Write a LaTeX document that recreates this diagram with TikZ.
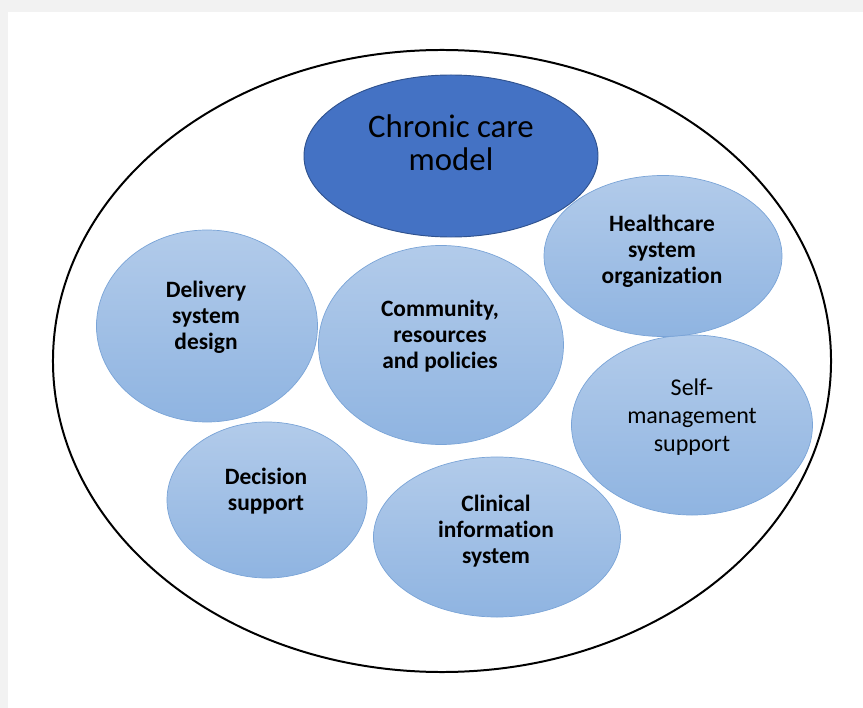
\documentclass[tikz,border=0pt]{standalone}
\usepackage{fontspec}
\setmainfont{Carlito}[RawFeature={-liga;-calt}]
\usetikzlibrary{shapes.geometric}
\definecolor{coreblue}{RGB}{68,114,196}
\definecolor{coreline}{RGB}{47,82,143}
\definecolor{bubbletop}{RGB}{178,203,234}
\definecolor{bubblebot}{RGB}{143,180,225}
\definecolor{bubbleline}{RGB}{122,164,215}
\tikzset{
x=0.03cm, y=-0.03cm, % one unit = one pixel, y grows downwards
every node/.style={align=center, text=black}, % multi-line labels
frame/.style={ellipse, draw=black, line width=1.7pt}, % big ring round everything
core/.style={ellipse, draw=coreline, fill=coreblue, line width=0.8pt}, % the model itself
bubble/.style={ellipse, draw=bubbleline, top color=bubbletop, bottom color=bubblebot, line width=0.6pt}, % one element
tag/.style={font=\fontsize{20}{22}\selectfont\bfseries}, % bold element names
}

\begin{document}
\begin{tikzpicture}
    % window edge
    \fill[black!5] (0,0) rectangle (863,12);
    \fill[black!5] (0,0) rectangle (8,708);
    \useasboundingbox (0,0) rectangle (863,708);

    \node[frame, minimum width=23.34cm, minimum height=18.66cm] (ring) at (442,361) {};
    \node[core, minimum width=8.82cm, minimum height=4.86cm] (ccm) at (451,156) {};
    \node[bubble, minimum width=6.63cm, minimum height=5.76cm] (dsd) at (207,326) {};
    \node[bubble, minimum width=7.35cm, minimum height=5.97cm] (crp) at (441,345) {};
    \node[bubble, minimum width=6.00cm, minimum height=4.68cm] (ds) at (267,500) {};
    \node[bubble, minimum width=7.41cm, minimum height=4.80cm] (cis) at (497,537) {};
    \node[bubble, minimum width=7.23cm, minimum height=5.40cm] (sms) at (692,425) {};
    \node[bubble, minimum width=7.14cm, minimum height=4.83cm] (hso) at (663,256) {};

    \node[font=\fontsize{28}{28}\selectfont] (ccm-t) at (451,143) {Chronic care\\model};
    \node[tag] (dsd-t) at (206,317) {Delivery\\system\\design};
    \node[tag] (crp-t) at (440,336) {Community,\\resources\\and policies};
    \node[tag] (ds-t) at (266,491) {Decision\\support};
    \node[tag] (cis-t) at (496,531) {Clinical\\information\\system};
    \node[font=\fontsize{20.5}{24}\selectfont] (sms-t) at (692,417) {Self-\\management\\support};
    \node[tag] (hso-t) at (662,251) {Healthcare\\system\\organization};
\end{tikzpicture}
\end{document}
